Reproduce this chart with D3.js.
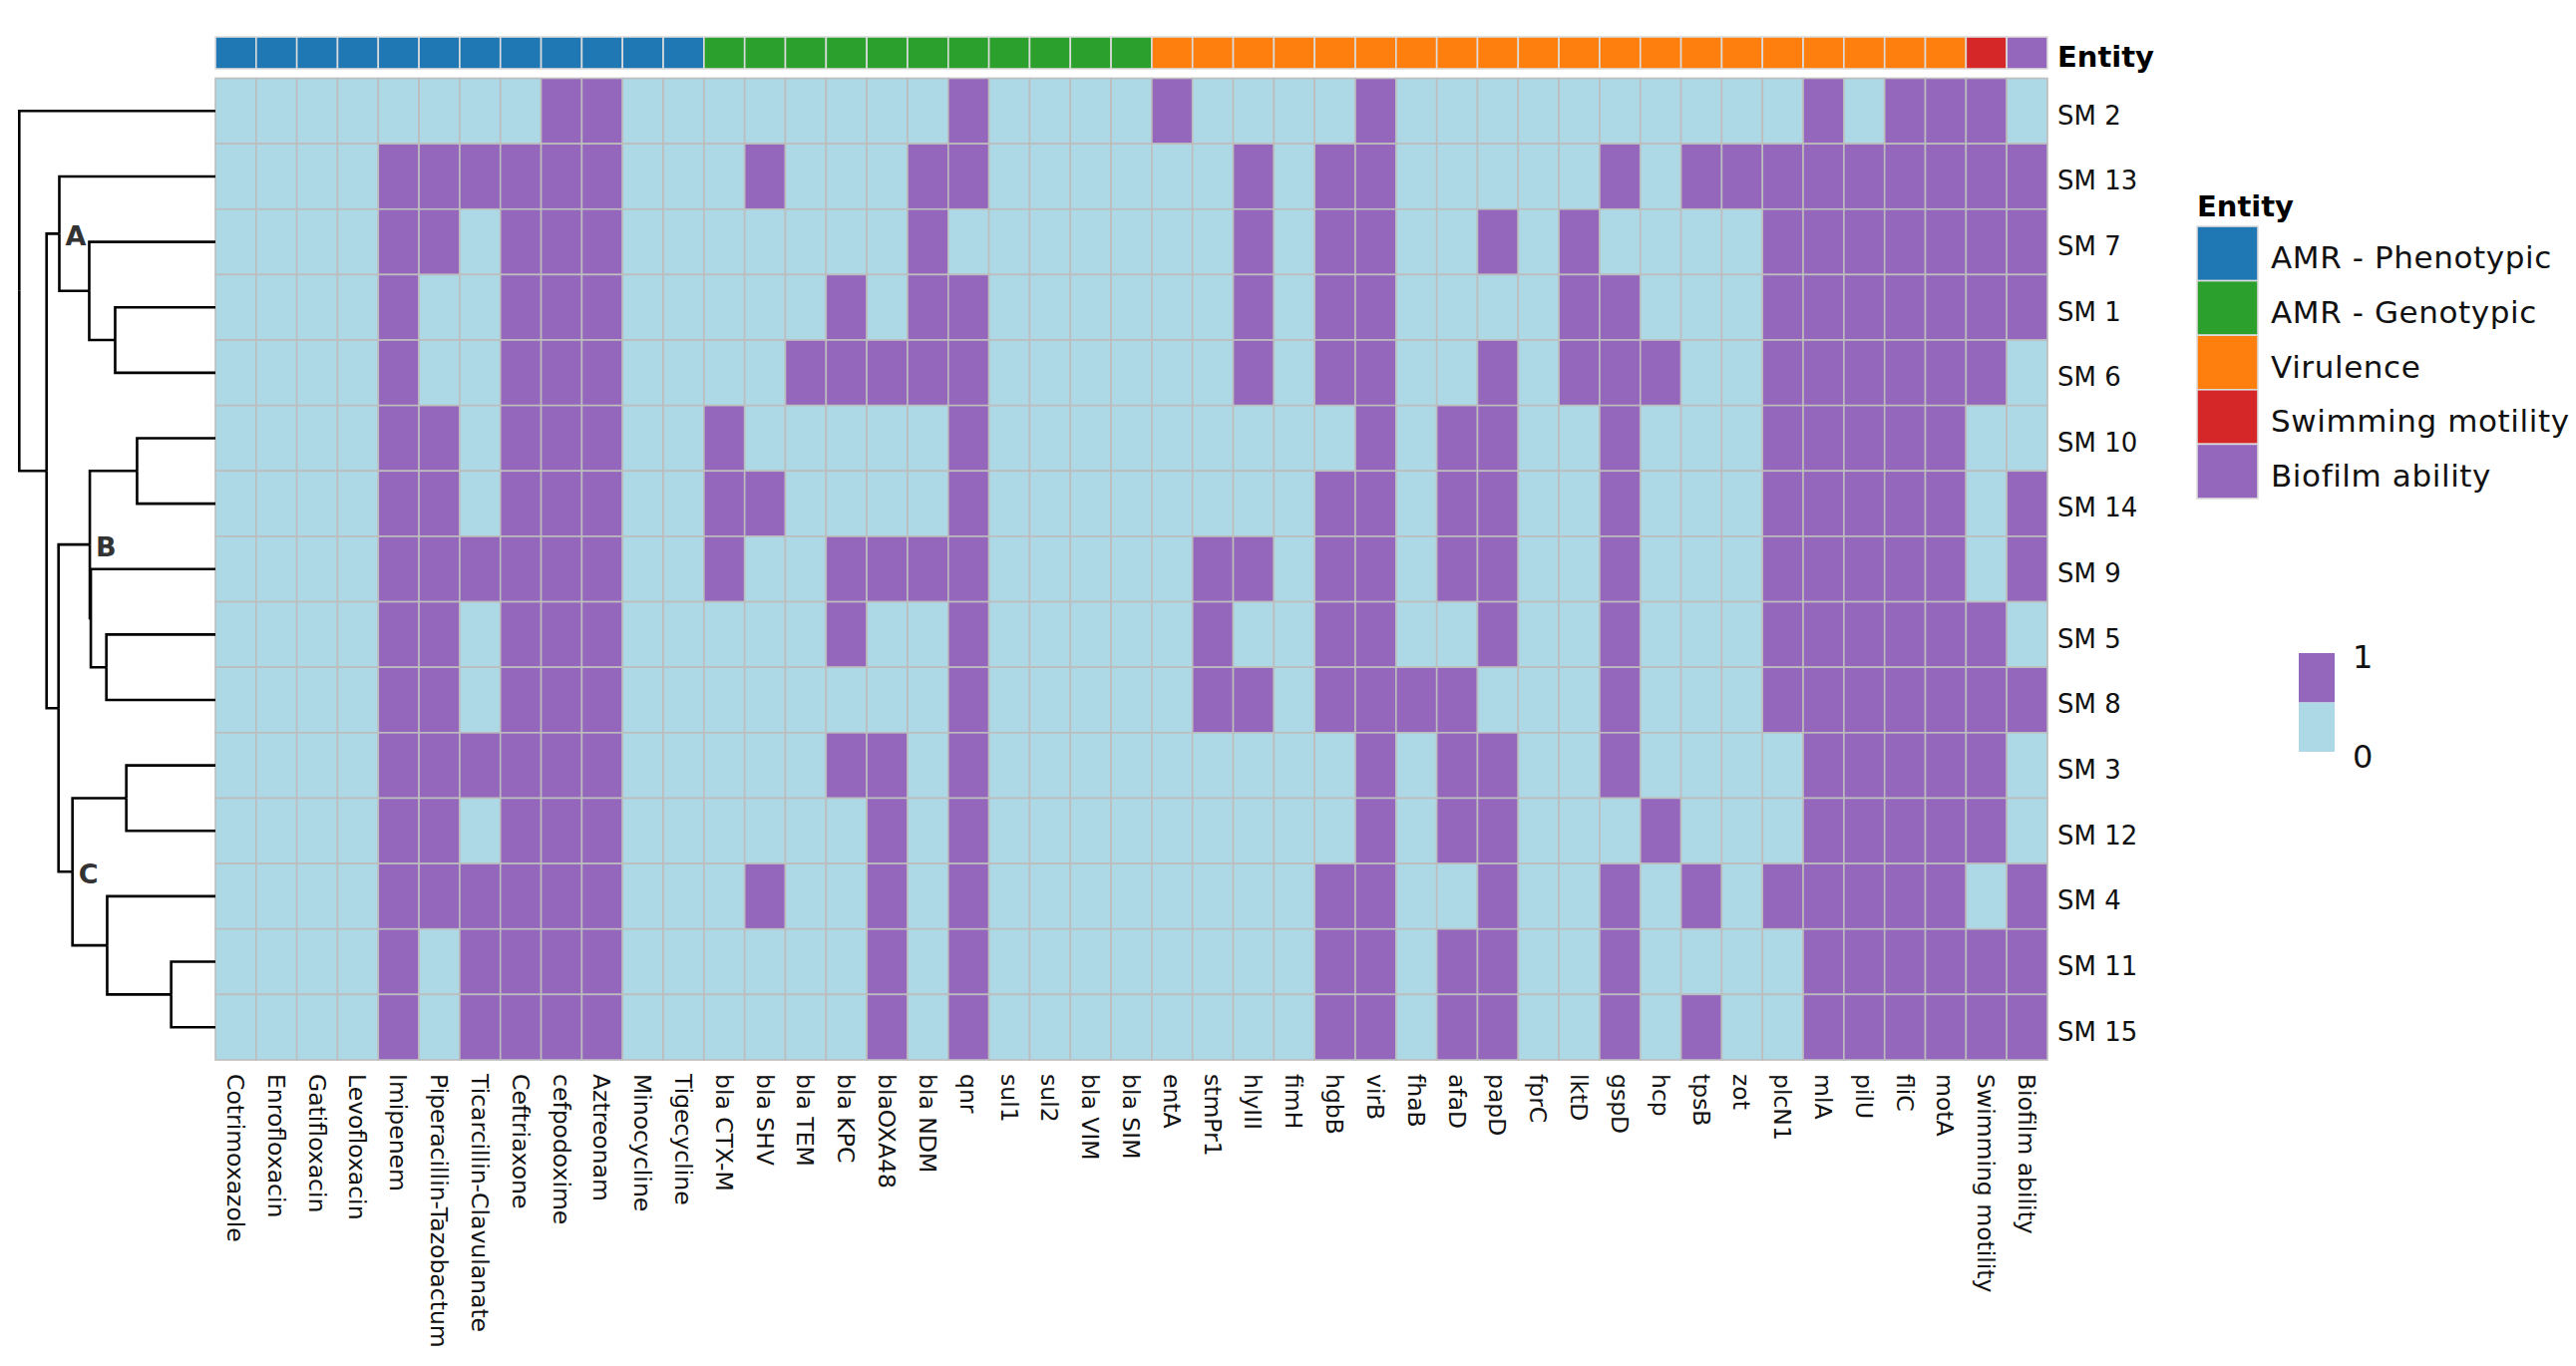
<!DOCTYPE html>
<html lang='en'>
<head>
	<meta charset='UTF-8'/>
	<title>Heatmap: AMR, virulence and biofilm profile</title>
	<script src='https://cdnjs.cloudflare.com/ajax/libs/d3/7.8.5/d3.min.js'></script>
	<style>
		body {margin: 0; background: #fff;}
		svg {display: block; font-family: 'DejaVu Sans', sans-serif;}
	</style>
</head>
<body>
	<div class='graph'></div>
	<script>
		// ---- data ----
		const features = ['Cotrimoxazole', 'Enrofloxacin', 'Gatifloxacin', 'Levofloxacin', 'Imipenem',
			'Piperacillin-Tazobactum', 'Ticarcillin-Clavulanate', 'Ceftriaxone', 'cefpodoxime', 'Aztreonam',
			'Minocycline', 'Tigecycline',
			'bla CTX-M', 'bla SHV', 'bla TEM', 'bla KPC', 'blaOXA48', 'bla NDM', 'qnr', 'sul1', 'sul2',
			'bla VIM', 'bla SIM',
			'entA', 'stmPr1', 'hlyIII', 'fimH', 'hgbB', 'virB', 'fhaB', 'afaD', 'papD', 'fprC', 'lktD',
			'gspD', 'hcp', 'tpsB', 'zot', 'plcN1', 'mlA', 'pilU', 'fliC', 'motA',
			'Swimming motility', 'Biofilm ability'];

		const entities = ['AMR - Phenotypic', 'AMR - Genotypic', 'Virulence', 'Swimming motility', 'Biofilm ability'];
		const entityColors = ['#1f77b4', '#2ca02c', '#ff7f0e', '#d62728', '#9467bd'];
		// entity index of every column
		const featureEntity = [0,0,0,0,0,0,0,0,0,0,0,0, 1,1,1,1,1,1,1,1,1,1,1,
			2,2,2,2,2,2,2,2,2,2,2,2,2,2,2,2,2,2,2,2, 3, 4];

		// rows in dendrogram order
		const samples = ['SM 2', 'SM 13', 'SM 7', 'SM 1', 'SM 6', 'SM 10', 'SM 14', 'SM 9',
			'SM 5', 'SM 8', 'SM 3', 'SM 12', 'SM 4', 'SM 11', 'SM 15'];

		//            phenotypic (12)          genotypic (11)        virulence (20)                          swim bio
		const matrix = [
			[0,0,0,0,0,0,0,0,1,1,0,0, 0,0,0,0,0,0,1,0,0,0,0, 1,0,0,0,0,1,0,0,0,0,0,0,0,0,0,0,1,0,1,1, 1, 0],
			[0,0,0,0,1,1,1,1,1,1,0,0, 0,1,0,0,0,1,1,0,0,0,0, 0,0,1,0,1,1,0,0,0,0,0,1,0,1,1,1,1,1,1,1, 1, 1],
			[0,0,0,0,1,1,0,1,1,1,0,0, 0,0,0,0,0,1,0,0,0,0,0, 0,0,1,0,1,1,0,0,1,0,1,0,0,0,0,1,1,1,1,1, 1, 1],
			[0,0,0,0,1,0,0,1,1,1,0,0, 0,0,0,1,0,1,1,0,0,0,0, 0,0,1,0,1,1,0,0,0,0,1,1,0,0,0,1,1,1,1,1, 1, 1],
			[0,0,0,0,1,0,0,1,1,1,0,0, 0,0,1,1,1,1,1,0,0,0,0, 0,0,1,0,1,1,0,0,1,0,1,1,1,0,0,1,1,1,1,1, 1, 0],
			[0,0,0,0,1,1,0,1,1,1,0,0, 1,0,0,0,0,0,1,0,0,0,0, 0,0,0,0,0,1,0,1,1,0,0,1,0,0,0,1,1,1,1,1, 0, 0],
			[0,0,0,0,1,1,0,1,1,1,0,0, 1,1,0,0,0,0,1,0,0,0,0, 0,0,0,0,1,1,0,1,1,0,0,1,0,0,0,1,1,1,1,1, 0, 1],
			[0,0,0,0,1,1,1,1,1,1,0,0, 1,0,0,1,1,1,1,0,0,0,0, 0,1,1,0,1,1,0,1,1,0,0,1,0,0,0,1,1,1,1,1, 0, 1],
			[0,0,0,0,1,1,0,1,1,1,0,0, 0,0,0,1,0,0,1,0,0,0,0, 0,1,0,0,1,1,0,0,1,0,0,1,0,0,0,1,1,1,1,1, 1, 0],
			[0,0,0,0,1,1,0,1,1,1,0,0, 0,0,0,0,0,0,1,0,0,0,0, 0,1,1,0,1,1,1,1,0,0,0,1,0,0,0,1,1,1,1,1, 1, 1],
			[0,0,0,0,1,1,1,1,1,1,0,0, 0,0,0,1,1,0,1,0,0,0,0, 0,0,0,0,0,1,0,1,1,0,0,1,0,0,0,0,1,1,1,1, 1, 0],
			[0,0,0,0,1,1,0,1,1,1,0,0, 0,0,0,0,1,0,1,0,0,0,0, 0,0,0,0,0,1,0,1,1,0,0,0,1,0,0,0,1,1,1,1, 1, 0],
			[0,0,0,0,1,1,1,1,1,1,0,0, 0,1,0,0,1,0,1,0,0,0,0, 0,0,0,0,1,1,0,0,1,0,0,1,0,1,0,1,1,1,1,1, 0, 1],
			[0,0,0,0,1,0,1,1,1,1,0,0, 0,0,0,0,1,0,1,0,0,0,0, 0,0,0,0,1,1,0,1,1,0,0,1,0,0,0,0,1,1,1,1, 1, 1],
			[0,0,0,0,1,0,1,1,1,1,0,0, 0,0,0,0,1,0,1,0,0,0,0, 0,0,0,0,1,1,0,1,1,0,0,1,0,1,0,0,1,1,1,1, 1, 1]
		];

		const valueLevels = [1, 0];
		const valueColors = ['#9467bd', '#add8e6'];

		// row clustering, merge heights
		const rowTree = {h: 9.84, children: [
			{name: 'SM 2'},
			{h: 8.47, children: [
				{h: 7.83, label: 'A', children: [
					{name: 'SM 13'},
					{h: 6.33, children: [
						{name: 'SM 7'},
						{h: 5.03, children: [{name: 'SM 1'}, {name: 'SM 6'}]}
					]}
				]},
				{h: 7.87, children: [
					{h: 6.30, label: 'B', children: [
						{h: 3.93, children: [{name: 'SM 10'}, {name: 'SM 14'}]},
						{h: 6.25, children: [
							{name: 'SM 9'},
							{h: 5.47, children: [{name: 'SM 5'}, {name: 'SM 8'}]}
						]}
					]},
					{h: 7.17, label: 'C', children: [
						{h: 4.47, children: [{name: 'SM 3'}, {name: 'SM 12'}]},
						{h: 5.43, children: [
							{name: 'SM 4'},
							{h: 2.22, children: [{name: 'SM 11'}, {name: 'SM 15'}]}
						]}
					]}
				]}
			]}
		]};

		// ---- layout ----
		const width = 2583, height = 1370;
		const grid = {left: 216, right: 2053, top: 78.5, bottom: 1063};
		const annot = {top: 37, bottom: 69};

		const svg = d3.select('.graph')
			.append('svg')
			.attr('width', width)
			.attr('height', height);

		const X = d3.scaleBand().domain(features).range([grid.left, grid.right]);
		const Y = d3.scaleBand().domain(samples).range([grid.top, grid.bottom]);
		const fill = d3.scaleOrdinal().domain(valueLevels).range(valueColors);
		const entityFill = d3.scaleOrdinal().domain(entities).range(entityColors);

		// heatmap cells
		const cells = [];
		matrix.forEach((row, i) => row.forEach((v, j) => cells.push({s: samples[i], f: features[j], v: v})));
		svg.append('g')
			.selectAll('rect')
			.data(cells)
			.enter()
			.append('rect')
			.attr('x', d => X(d.f))
			.attr('y', d => Y(d.s))
			.attr('width', X.bandwidth())
			.attr('height', Y.bandwidth())
			.style('fill', d => fill(d.v))
			.style('stroke', '#bdbdbd')
			.style('stroke-width', 1.6);

		// column annotation bar
		svg.append('g')
			.selectAll('rect')
			.data(features)
			.enter()
			.append('rect')
			.attr('x', d => X(d))
			.attr('y', annot.top)
			.attr('width', X.bandwidth())
			.attr('height', annot.bottom - annot.top)
			.style('fill', (d, i) => entityFill(entities[featureEntity[i]]))
			.style('stroke', '#dcdcdc')
			.style('stroke-width', 1.6);
		svg.append('text')
			.text('Entity')
			.attr('x', grid.right + 10)
			.attr('y', (annot.top + annot.bottom) / 2 + 4)
			.attr('dy', '0.36em')
			.style('font-size', '29px')
			.style('font-weight', 'bold');

		// row labels
		svg.append('g')
			.selectAll('text')
			.data(samples)
			.enter()
			.append('text')
			.text(d => d)
			.attr('x', grid.right + 10)
			.attr('y', d => Y(d) + Y.bandwidth() / 2 + 4)
			.attr('dy', '0.36em')
			.style('font-size', '26px')
			.style('fill', '#111');

		// column labels, rotated
		svg.append('g')
			.selectAll('text')
			.data(features)
			.enter()
			.append('text')
			.text(d => d)
			.attr('transform', d => 'translate(' + (X(d) + X.bandwidth() / 2) + ',' + (grid.bottom + 14) + ') rotate(90)')
			.attr('dy', '0.36em')
			.style('font-size', '23.5px')
			.style('fill', '#111');

		// dendrogram
		const H = d3.scaleLinear().domain([0, 9.84]).range([grid.left, 19.3]);
		const root = d3.hierarchy(rowTree);
		root.eachAfter(n => {
			if (n.children) {
				n.py = d3.mean(n.children, c => c.py);
				n.px = H(n.data.h);
			} else {
				n.py = Y(n.data.name) + Y.bandwidth() / 2;
				n.px = H(0);
			}
		});
		svg.append('g')
			.selectAll('path')
			.data(root.links())
			.enter()
			.append('path')
			.attr('d', l => 'M' + l.source.px + ',' + l.source.py + 'V' + l.target.py + 'H' + l.target.px)
			.style('fill', 'none')
			.style('stroke', '#000')
			.style('stroke-width', 2.6);
		svg.append('g')
			.selectAll('text')
			.data(root.descendants().filter(n => n.data.label))
			.enter()
			.append('text')
			.text(d => d.data.label)
			.attr('x', d => d.px + 6)
			.attr('y', d => d.py + 2)
			.attr('dy', '0.36em')
			.style('font-size', '27px')
			.style('font-weight', 'bold')
			.style('fill', '#333');

		// entity legend
		const legend = {x: 2203, y: 227, w: 61, h: 54.6};
		svg.append('text')
			.text('Entity')
			.attr('x', legend.x)
			.attr('y', legend.y - 10)
			.style('font-size', '29px')
			.style('font-weight', 'bold');
		svg.append('g')
			.selectAll('rect')
			.data(entities)
			.enter()
			.append('rect')
			.attr('x', legend.x)
			.attr('y', (d, i) => legend.y + i * legend.h)
			.attr('width', legend.w)
			.attr('height', legend.h)
			.style('fill', d => entityFill(d))
			.style('stroke', '#dcdcdc')
			.style('stroke-width', 1.6);
		svg.append('g')
			.selectAll('text')
			.data(entities)
			.enter()
			.append('text')
			.text(d => d)
			.attr('x', legend.x + legend.w + 13)
			.attr('y', (d, i) => legend.y + (i + 0.5) * legend.h + 4)
			.attr('dy', '0.36em')
			.style('font-size', '31px')
			.style('letter-spacing', '0.6px')
			.style('fill', '#111');

		// value legend
		const vlegend = {x: 2305, y: 655, w: 36, h: 49.5};
		svg.append('g')
			.selectAll('rect')
			.data(valueLevels)
			.enter()
			.append('rect')
			.attr('x', vlegend.x)
			.attr('y', (d, i) => vlegend.y + i * vlegend.h)
			.attr('width', vlegend.w)
			.attr('height', vlegend.h)
			.style('fill', d => fill(d));
		svg.append('g')
			.selectAll('text')
			.data(valueLevels)
			.enter()
			.append('text')
			.text(d => d)
			.attr('x', vlegend.x + vlegend.w + 18)
			.attr('y', (d, i) => vlegend.y + 3 + i * (2 * vlegend.h + 1))
			.attr('dy', '0.36em')
			.style('font-size', '32px')
			.style('fill', '#111');
	</script>
</body>
</html>
